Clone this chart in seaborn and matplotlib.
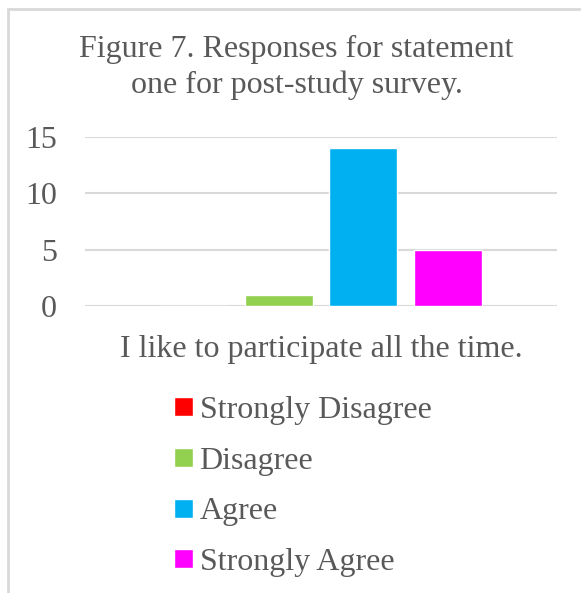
import matplotlib
matplotlib.use("Agg")
import matplotlib.pyplot as plt
import seaborn as sns
import pandas as pd
from matplotlib.patches import Rectangle

# Survey responses for statement one
statement = "I like to participate all the time."
responses = ["Strongly Disagree", "Disagree", "Agree", "Strongly Agree"]
counts = [0, 1, 14, 5]
colors = ["#FF0000", "#92D050", "#00B0F0", "#FF00FF"]
yticks = [0, 5, 10, 15]
title_lines = ["Figure 7. Responses for statement",
               "one for post-study survey."]

TEXT = "#595959"
GRID = "#D9D9D9"
FS = 23

sns.set_theme(style="white")
plt.rcParams["font.family"] = ["Liberation Serif", "DejaVu Serif"]

df = pd.DataFrame({"statement": [statement] * len(responses),
                   "response": responses,
                   "count": counts})

fig = plt.figure(figsize=(5.81, 5.93), dpi=100)
W, H = 581, 593
ax = fig.add_axes([85 / W, 1 - 306 / H, (557 - 85) / W, (306 - 137) / H])

sns.barplot(data=df, x="statement", y="count", hue="response",
            hue_order=responses, palette=colors, width=0.72, gap=0.2,
            saturation=1, ax=ax, legend=True)

ax.set_xlim(-0.5, 0.5)
ax.set_ylim(0, 15)
ax.set_yticks(yticks)
ax.set_xlabel("")
ax.set_ylabel("")
ax.yaxis.grid(True, color=GRID, linewidth=1.5)
ax.set_axisbelow(True)
for s in ax.spines.values():
    s.set_visible(False)
ax.axhline(0, color=GRID, linewidth=1.8, zorder=0.5)
ax.tick_params(axis="y", length=0, pad=20, labelsize=FS, labelcolor=TEXT)
ax.tick_params(axis="x", length=0, pad=21, labelsize=FS, labelcolor=TEXT)

# two-line chart title
for line, base in zip(title_lines, [57, 93.5]):
    fig.text(296.5 / W, 1 - base / H, line, ha="center", va="baseline",
             fontsize=FS, color=TEXT)

handles, labels = ax.get_legend_handles_labels()
ax.get_legend().remove()
leg = fig.legend(handles, labels, loc="upper left",
                 bbox_to_anchor=(174 / W, 1 - 396 / H),
                 frameon=False, fontsize=FS, labelcolor=TEXT,
                 handlelength=0.6, handleheight=0.55, handletextpad=0.2,
                 labelspacing=0.68, borderaxespad=0, borderpad=0)

# outer chart border
fig.patches.append(Rectangle((8 / W, -0.1), 1.2, (1 - 9 / H) + 0.1,
                             transform=fig.transFigure, fill=False,
                             edgecolor=GRID, linewidth=2))

fig.savefig("out.png", dpi=100)
